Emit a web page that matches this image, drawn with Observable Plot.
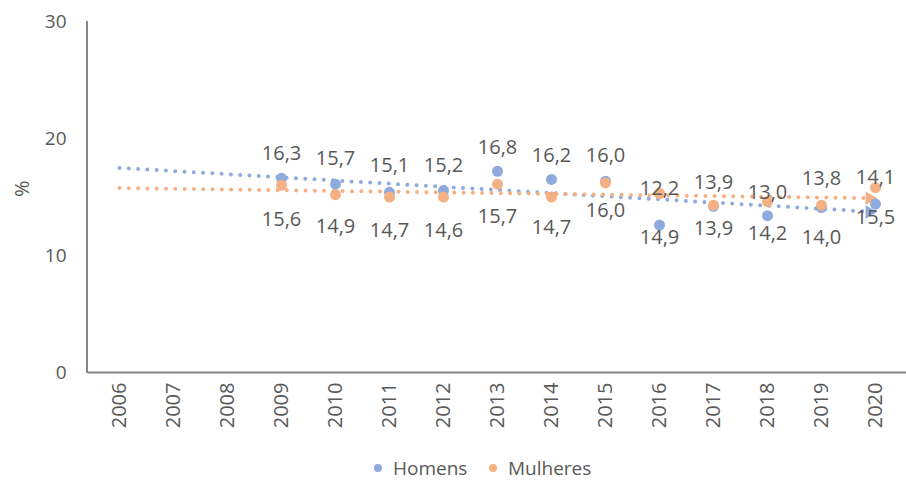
<!DOCTYPE html>
<html>
<head>
<meta charset="utf-8">
<script src="https://cdn.jsdelivr.net/npm/d3@7"></script>
<script src="https://cdn.jsdelivr.net/npm/@observablehq/plot@0.6"></script>
<style>
  body { margin: 0; background: #fff; font-family: "Open Sans", sans-serif; }
  #wrap { width: 906px; position: relative; }
  #legend { height: 35px; position: relative; color: #595959; font-size: 19px; }
  .item { position: absolute; top: 0; height: 35px; display: flex; align-items: center; padding-top: 10px; box-sizing: border-box; }
  .sw { width: 8px; height: 8px; border-radius: 50%; display: inline-block; margin-right: 11px; }
  #chart g[aria-label^="x-axis"] text { font-size: 20px; }
</style>
</head>
<body>
<div id="wrap">
  <div id="chart"></div>
  <div id="legend">
    <div class="item" style="left:374px"><span class="sw" style="background:#8FAADC"></span>Homens</div>
    <div class="item" style="left:489px"><span class="sw" style="background:#F4B183"></span>Mulheres</div>
  </div>
</div>
<script>
const years = ["2006","2007","2008","2009","2010","2011","2012","2013","2014","2015","2016","2017","2018","2019","2020"];
const dataYears = ["2009","2010","2011","2012","2013","2014","2015","2016","2017","2018","2019","2020"];
const homens   = [16.6, 16.1, 15.4, 15.55, 17.2, 16.5, 16.35, 12.6, 14.2, 13.4, 14.1, 14.4];
const mulheres = [16.0, 15.2, 15.0, 15.0, 16.1, 15.0, 16.2, 15.3, 14.3, 14.6, 14.3, 15.8];
const labelTop    = ["16,3","15,7","15,1","15,2","16,8","16,2","16,0","12,2","13,9","13,0","13,8","14,1"];
const labelBottom = ["15,6","14,9","14,7","14,6","15,7","14,7","16,0","14,9","13,9","14,2","14,0","15,5"];
const labelTopAt    = [18.7, 18.3, 17.7, 17.7, 19.2, 18.5, 18.5, 15.7, 16.2, 15.4, 16.6, 16.7];
const labelBottomAt = [13.1, 12.5, 12.1, 12.1, 13.3, 12.4, 13.8, 11.5, 12.3, 11.9, 11.5, 13.2];
const yTicks = [0, 10, 20, 30];

const BLUE = "#8FAADC", ORANGE = "#F4B183", TEXT = "#595959", AXIS = "#868686";

// linear trend (Excel-style) fitted over category index, extended to the full axis
function trend(values) {
  const xs = dataYears.map(y => years.indexOf(y));
  const mx = d3.mean(xs), my = d3.mean(values);
  const sxy = d3.sum(xs, (x, i) => (x - mx) * (values[i] - my));
  const sxx = d3.sum(xs, x => (x - mx) ** 2);
  const b = sxy / sxx, a = my - b * mx;
  const first = years[0], last = years[years.length - 1];
  return [
    {year: first, v: a + b * years.indexOf(first)},
    {year: last, v: a + b * years.indexOf(last)}
  ];
}
const trendH = trend(homens);
const trendM = trend(mulheres);

const pts = dataYears.map((y, i) => ({year: y, h: homens[i], m: mulheres[i],
  lt: labelTop[i], lb: labelBottom[i], ltAt: labelTopAt[i], lbAt: labelBottomAt[i]}));

const dotted = {strokeWidth: 4, strokeDasharray: "0 9.3", strokeLinecap: "round"};

const chart = Plot.plot({
  width: 906,
  height: 445,
  marginLeft: 88,
  marginRight: 0,
  marginTop: 21,
  marginBottom: 73,
  style: {fontFamily: "Open Sans", fontSize: "19px", color: TEXT, background: "white"},
  x: {type: "band", domain: years, padding: 0, label: null, tickRotate: -90, tickSize: 0, tickPadding: 10},
  y: {domain: [0, 30], ticks: yTicks, label: null, tickSize: 0, tickPadding: 22},
  marks: [
    Plot.ruleY([0], {stroke: AXIS, strokeWidth: 2}),
    Plot.line(trendH, {x: "year", y: "v", stroke: BLUE, ...dotted}),
    Plot.line(trendM, {x: "year", y: "v", stroke: ORANGE, ...dotted}),
    Plot.dot(trendH.slice(1), {x: "year", y: "v", symbol: "triangle2", rotate: 90, r: 6.5, fill: BLUE, dx: -6}),
    Plot.dot(trendM.slice(1), {x: "year", y: "v", symbol: "triangle2", rotate: 90, r: 6.5, fill: ORANGE, dx: -6}),
    Plot.dot(pts, {x: "year", y: "h", r: 5.5, fill: BLUE}),
    Plot.dot(pts, {x: "year", y: "m", r: 5.5, fill: ORANGE}),
    Plot.text(pts, {x: "year", y: "ltAt", text: "lt", fill: TEXT, fontSize: 20}),
    Plot.text(pts, {x: "year", y: "lbAt", text: "lb", fill: TEXT, fontSize: 20}),
    Plot.text(["%"], {frameAnchor: "left", dx: -66, dy: 0, rotate: -90, fill: TEXT, fontSize: 20})
  ]
});

// vertical axis line on the left edge of the frame
d3.select(chart).append("line")
  .attr("x1", 87).attr("x2", 87)
  .attr("y1", 21).attr("y2", 373)
  .attr("stroke", AXIS).attr("stroke-width", 2);

document.getElementById("chart").appendChild(chart);
</script>
</body>
</html>
